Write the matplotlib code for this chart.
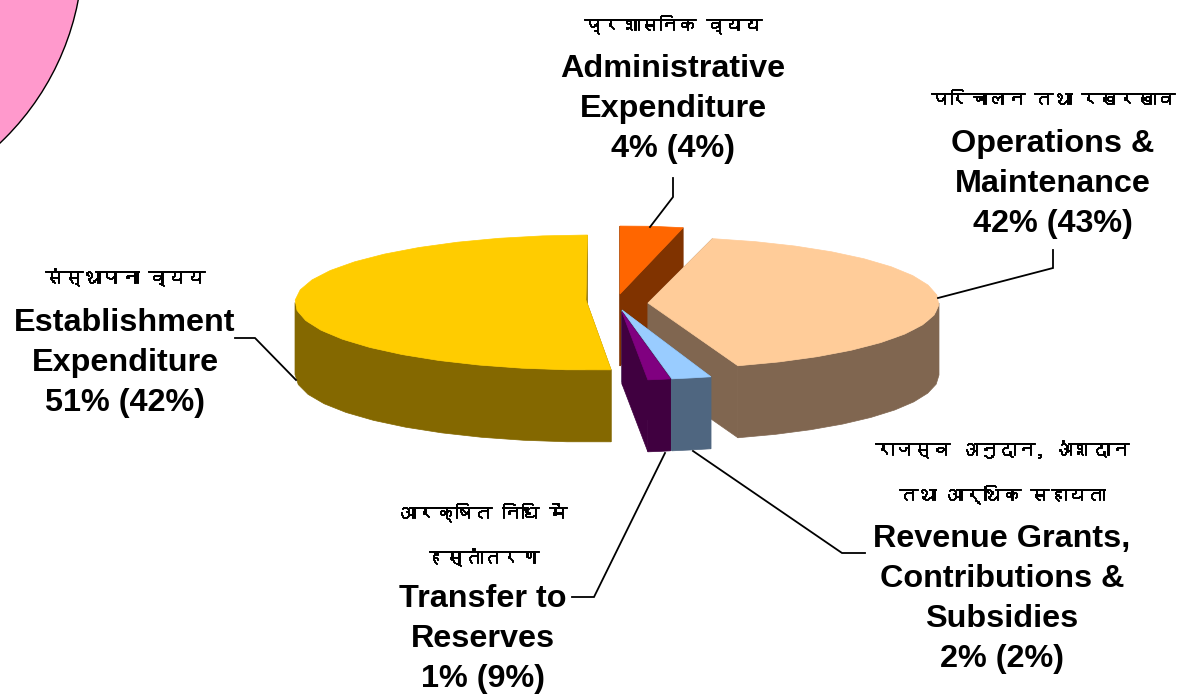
import numpy as np
import matplotlib
matplotlib.use('Agg')
import matplotlib.pyplot as plt
import matplotlib.patches as patches
import matplotlib.patheffects as pe
from matplotlib import font_manager, ft2font

# share of expenditure, with last year's share in brackets
names = ['Administrative\nExpenditure', 'Operations &\nMaintenance',
         'Revenue Grants,\nContributions &\nSubsidies', 'Transfer to\nReserves',
         'Establishment\nExpenditure']
names_hi = ['प्रशासनिक व्यय', 'परिचालन तथा रखरखाव',
            'राजस्व अनुदान, अंशदान\nतथा आर्थिक सहायता',
            'आरक्षित निधि में\nहस्तांतरण', 'संस्थापना व्यय']
values = [4, 42, 2, 1, 51]
previous = [4, 43, 2, 9, 42]

colors = ['#FF6600', '#FFCC99', '#99CCFF', '#800080', '#FFCC00']
side_colors = ['#803300', '#806650', '#4F6680', '#400040', '#846800']

# the slices are pulled apart by hand in the original, so each has its own place
centers = [(630, 294), (648, 303), (612, 314), (634, 314), (590, 302.5)]
apexes = [(620, 294), (648, 303), (622, 310), (622, 312), (586, 300)]
rotate = [-2.4, -1.6, -3.6, -3.6, -0.5]
radius_x = [240, 291, 320, 194, 295]
radius_y = [68, 66, 66, 66, 67.5]
depth = 72


def find_devanagari():
    for f in font_manager.fontManager.ttflist:
        try:
            if 0x0915 in ft2font.FT2Font(f.fname).get_charmap():
                return f.name
        except Exception:
            pass
    return 'DejaVu Sans'


hindi_font = find_devanagari()

fig = plt.figure(figsize=(11.98, 6.94), dpi=100)
ax = fig.add_axes([0, 0, 1, 1])
ax.set_xlim(0, 1198)
ax.set_ylim(694, 0)
ax.axis('off')

# pink circle of the slide background, top left corner
ax.add_patch(patches.Circle((-183, -50), 266, facecolor='#FF99CC', edgecolor='black', linewidth=1))

edges = np.cumsum([0] + values) * 3.6


def rim(i, a, b):
    t = np.radians(np.linspace(a, b, max(3, int(abs(b - a) / 9) + 2)))
    return np.column_stack([centers[i][0] + radius_x[i] * np.sin(t), centers[i][1] - radius_y[i] * np.cos(t)])


def draw_slice(i):
    a = edges[i] + rotate[i]
    b = edges[i + 1] + rotate[i + 1] if i < 4 else 360 + rotate[i]
    top = rim(i, a, b)
    apex = np.array(apexes[i], dtype=float)
    down = np.array([0, depth])
    # cut faces first, then the outer wall, then the top
    for end in (top[0], top[-1]):
        face = [apex, end, end + down, apex + down]
        ax.add_patch(patches.Polygon(face, facecolor=side_colors[i], edgecolor=side_colors[i], linewidth=0.5))
    wall_a, wall_b = max(a, 90), min(b, 270)
    if wall_b > wall_a:
        wall = rim(i, wall_a, wall_b)
        ax.add_patch(patches.Polygon(np.vstack([wall, (wall + down)[::-1]]), facecolor=side_colors[i],
                                     edgecolor=side_colors[i], linewidth=0.5))
    ax.add_patch(patches.Polygon(np.vstack([apex, top]), facecolor=colors[i], edgecolor=colors[i], linewidth=0.5))


# back slices first
for i in [0, 4, 1, 2, 3]:
    draw_slice(i)

# leader lines
leaders = [
    [(650, 227), (673, 197), (673, 178)],
    [(938, 298), (1053, 268), (1053, 250)],
    [(693, 451), (842, 553), (865, 553)],
    [(665, 453), (594, 597), (572, 597)],
    [(296, 380), (255, 338), (235, 338)],
]
for pts in leaders:
    xs, ys = zip(*pts)
    ax.plot(xs, ys, color='black', linewidth=1.3, solid_joinstyle='miter')

# label positions: x centre, y of the first hindi line, y of the first english line
label_pos = [(673, 24, 69), (1053, 99, 144), (1002, 449, 539), (483, 512, 599), (125, 277, 323)]
for i, (x, y_hi, y_en) in enumerate(label_pos):
    for k, line in enumerate(names_hi[i].split('\n')):
        # the font has no bold, so thicken it with a thin stroke
        ax.text(x, y_hi + k * 45, line, ha='center', va='center', fontsize=13.5,
                family=[hindi_font, 'DejaVu Sans'], color='black',
                path_effects=[pe.withStroke(linewidth=0.7, foreground='black')])
    lines = names[i].split('\n') + [f'{values[i]}% ({previous[i]}%)']
    for k, line in enumerate(lines):
        ax.text(x, y_en + k * 40, line, ha='center', va='center', fontsize=23.3, fontweight='bold',
                family='Liberation Sans', color='black')

fig.savefig('out.png', dpi=100)
